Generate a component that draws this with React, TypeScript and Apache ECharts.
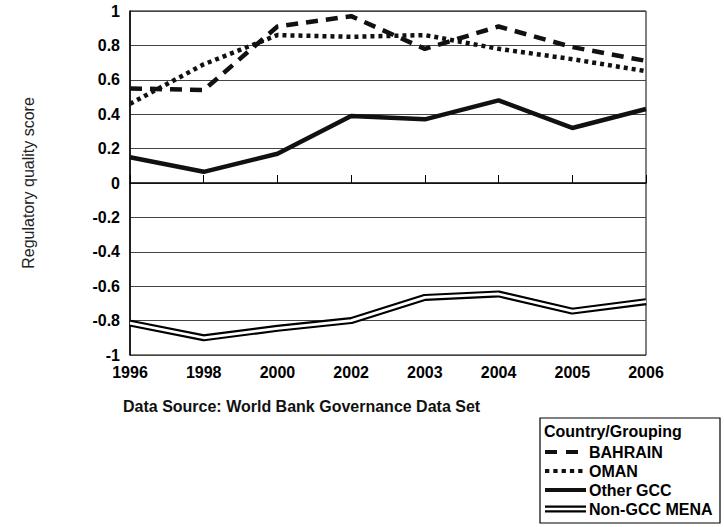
import React, { useEffect, useRef } from "react";
import * as echarts from "echarts";

const years = ["1996", "1998", "2000", "2002", "2003", "2004", "2005", "2006"];
const bahrain = [0.55, 0.54, 0.91, 0.97, 0.78, 0.91, 0.79, 0.71];
const oman = [0.46, 0.69, 0.86, 0.85, 0.86, 0.78, 0.72, 0.65];
const otherGcc = [0.15, 0.065, 0.17, 0.39, 0.37, 0.48, 0.32, 0.43];
const nonGccMena = [-0.815, -0.9, -0.845, -0.8, -0.665, -0.645, -0.745, -0.69];

const FONT = "'Liberation Sans', Arial, sans-serif";
const DASH = [12, 8];
const DOT = [4, 4];

export default function App() {
  const ref = useRef<HTMLDivElement>(null);
  useEffect(() => {
    document.body.style.margin = "0";
    if (!ref.current) return;
    const chart = echarts.init(ref.current, undefined, { renderer: "svg" });
    const rows = [452, 471, 490, 509];
    const textX = 589;
    const sx1 = 545;
    const sx2 = 586;
    const legendFont = `bold 16px ${FONT}`;
    chart.setOption({
      animation: false,
      backgroundColor: "#ffffff",
      grid: {
        left: 130,
        right: 78,
        top: 11,
        bottom: 172,
        show: true,
        borderColor: "#000",
        borderWidth: 1,
      },
      xAxis: {
        type: "category",
        data: years,
        boundaryGap: false,
        axisLine: { show: true, lineStyle: { color: "#000", width: 1.5 } },
        axisTick: { show: true, inside: true, length: 8, alignWithLabel: true, lineStyle: { color: "#000" } },
        axisLabel: {
          color: "#000",
          fontFamily: FONT,
          fontWeight: "bold",
          fontSize: 16,
          margin: 9,
          showMinLabel: true,
          showMaxLabel: true,
        },
        splitLine: { show: false },
      },
      yAxis: {
        type: "value",
        min: -1,
        max: 1,
        interval: 0.2,
        name: "Regulatory quality score",
        nameLocation: "middle",
        nameGap: 94,
        nameRotate: 90,
        nameTextStyle: { color: "#222", fontFamily: FONT, fontSize: 16 },
        axisLine: { show: true, lineStyle: { color: "#000", width: 1.5 } },
        axisTick: { show: false },
        axisLabel: {
          color: "#000",
          fontFamily: FONT,
          fontWeight: "bold",
          fontSize: 16,
          margin: 10,
          formatter: (v: number) => {
            const r = Math.round(v * 10) / 10;
            return String(r);
          },
        },
        splitLine: { show: true, lineStyle: { color: "#444", width: 1 } },
      },
      series: [
        {
          name: "Non-GCC MENA outer",
          type: "line",
          data: nonGccMena,
          symbol: "none",
          lineStyle: { color: "#000", width: 7 },
          z: 2,
        },
        {
          name: "Non-GCC MENA inner",
          type: "line",
          data: nonGccMena,
          symbol: "none",
          lineStyle: { color: "#fff", width: 2.7 },
          z: 3,
        },
        {
          name: "Other GCC",
          type: "line",
          data: otherGcc,
          symbol: "none",
          lineStyle: { color: "#111", width: 4.5 },
          z: 4,
        },
        {
          name: "OMAN",
          type: "line",
          data: oman,
          symbol: "none",
          lineStyle: { color: "#111", width: 4.5, type: DOT },
          z: 5,
        },
        {
          name: "BAHRAIN",
          type: "line",
          data: bahrain,
          symbol: "none",
          lineStyle: { color: "#111", width: 4.5, type: DASH },
          z: 6,
        },
      ],
      graphic: [
        {
          type: "text",
          x: 123,
          y: 406,
          style: {
            text: "Data Source: World Bank Governance Data Set",
            fill: "#111",
            font: `bold 16px ${FONT}`,
            verticalAlign: "middle",
          },
        },
        {
          type: "rect",
          shape: { x: 540, y: 418, width: 180, height: 105 },
          style: { fill: "#fff", stroke: "#000", lineWidth: 1.2 },
        },
        {
          type: "text",
          x: 544,
          y: 431,
          style: { text: "Country/Grouping", fill: "#000", font: legendFont, verticalAlign: "middle" },
        },
        {
          type: "line",
          shape: { x1: sx1, y1: rows[0], x2: sx2, y2: rows[0] },
          style: { stroke: "#111", lineWidth: 4, lineDash: [12, 9] },
        },
        {
          type: "text",
          x: textX,
          y: rows[0],
          style: { text: "BAHRAIN", fill: "#000", font: legendFont, verticalAlign: "middle" },
        },
        {
          type: "line",
          shape: { x1: sx1, y1: rows[1], x2: sx2, y2: rows[1] },
          style: { stroke: "#111", lineWidth: 4, lineDash: [4.3, 4] },
        },
        {
          type: "text",
          x: textX,
          y: rows[1],
          style: { text: "OMAN", fill: "#000", font: legendFont, verticalAlign: "middle" },
        },
        {
          type: "line",
          shape: { x1: sx1, y1: rows[2], x2: sx2, y2: rows[2] },
          style: { stroke: "#111", lineWidth: 4 },
        },
        {
          type: "text",
          x: textX,
          y: rows[2],
          style: { text: "Other GCC", fill: "#000", font: legendFont, verticalAlign: "middle" },
        },
        {
          type: "line",
          shape: { x1: sx1, y1: rows[3], x2: sx2, y2: rows[3] },
          style: { stroke: "#000", lineWidth: 7 },
        },
        {
          type: "line",
          shape: { x1: sx1, y1: rows[3], x2: sx2, y2: rows[3] },
          style: { stroke: "#fff", lineWidth: 2.7 },
        },
        {
          type: "text",
          x: textX,
          y: rows[3],
          style: { text: "Non-GCC MENA", fill: "#000", font: legendFont, verticalAlign: "middle" },
        },
      ],
    });
    return () => chart.dispose();
  }, []);
  return <div ref={ref} style={{ width: 724, height: 527 }} />;
}
